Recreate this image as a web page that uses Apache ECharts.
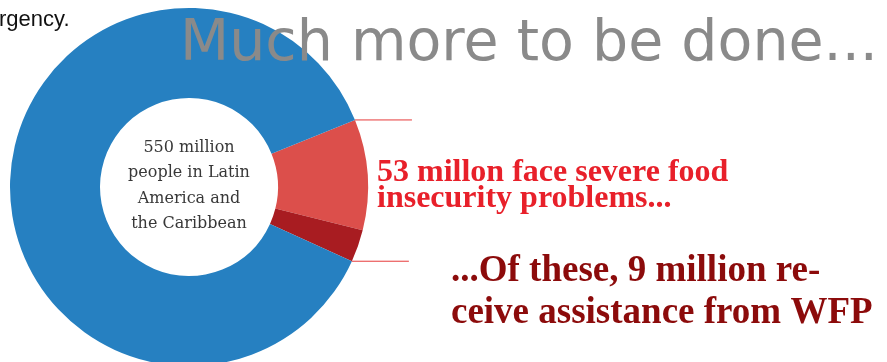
<!DOCTYPE html>
<html>
<head>
<meta charset="utf-8">
<script src="https://cdn.jsdelivr.net/npm/echarts@6/dist/echarts.min.js"></script>
<style>
html,body{margin:0;padding:0;background:#fff;}
#chart{width:887px;height:362px;}
</style>
</head>
<body>
<div id="chart"></div>
<script>
// Slice names and estimated angular shares (degrees of the ring)
const sliceNames = ['Severe food insecurity (no WFP assistance)', 'Receive WFP assistance', 'Rest of population'];
const sliceValues = [36, 10.5, 313.5];
const sliceColors = ['#dc4f4b', '#a81c21', '#2680c1'];

const titleText = 'Much more to be done...';
const cornerText = 'rgency.';
const centerText = '550 million\npeople in Latin\nAmerica and\nthe Caribbean';
const calloutRed = '53 millon face severe food\ninsecurity problems...';
const calloutDark = '...Of these, 9 million re-\nceive assistance from WFP';

const CX = 189, CY = 187, R_IN = 89, R_OUT = 179, START = 22;

const chart = echarts.init(document.getElementById('chart'), null, {renderer: 'canvas'});

// leader lines from slice boundaries, computed from data
const total = sliceValues.reduce((a, b) => a + b, 0);
const angTop = START;
const angBottom = START - (sliceValues[0] + sliceValues[1]) / total * 360;
function pt(a) { const r = a * Math.PI / 180; return [CX + R_OUT * Math.cos(r), CY - R_OUT * Math.sin(r)]; }
const pTop = pt(angTop), pBot = pt(angBottom);

chart.setOption({
  animation: false,
  series: [{
    type: 'pie',
    center: [CX, CY],
    radius: [R_IN, R_OUT],
    startAngle: START,
    clockwise: true,
    label: {show: false},
    labelLine: {show: false},
    itemStyle: {borderWidth: 0},
    data: sliceNames.map((n, i) => ({name: n, value: sliceValues[i], itemStyle: {color: sliceColors[i]}}))
  }],
  graphic: [
    {type: 'line', shape: {x1: pTop[0], y1: pTop[1], x2: pTop[0] + 57, y2: pTop[1]}, style: {stroke: '#e63a3a', lineWidth: 1}, z: 10},
    {type: 'line', shape: {x1: pBot[0], y1: pBot[1], x2: pBot[0] + 57, y2: pBot[1]}, style: {stroke: '#e63a3a', lineWidth: 1}, z: 10},
    {type: 'text', x: -1, y: 20, z: 10, style: {text: cornerText, fill: '#111', font: '22px "Liberation Sans", Arial, sans-serif', verticalAlign: 'middle'}},
    {type: 'text', x: 180, y: 45, z: 10, style: {text: titleText, fill: '#8a8a8a', font: '57px "DejaVu Sans", sans-serif', verticalAlign: 'middle'}},
    {type: 'text', x: CX, y: 186, z: 10, style: {text: centerText, fill: '#383838', font: '16px "DejaVu Serif", serif', align: 'center', verticalAlign: 'middle', lineHeight: 25.5}},
    {type: 'text', x: 377, y: 186, z: 10, style: {text: calloutRed, fill: '#e8202a', font: 'bold 32px "Liberation Serif", serif', verticalAlign: 'middle', lineHeight: 26}},
    {type: 'text', x: 451, y: 292, z: 10, style: {text: calloutDark, fill: '#8c0b0b', font: 'bold 37px "Liberation Serif", serif', verticalAlign: 'middle', lineHeight: 42}}
  ]
});
</script>
</body>
</html>
